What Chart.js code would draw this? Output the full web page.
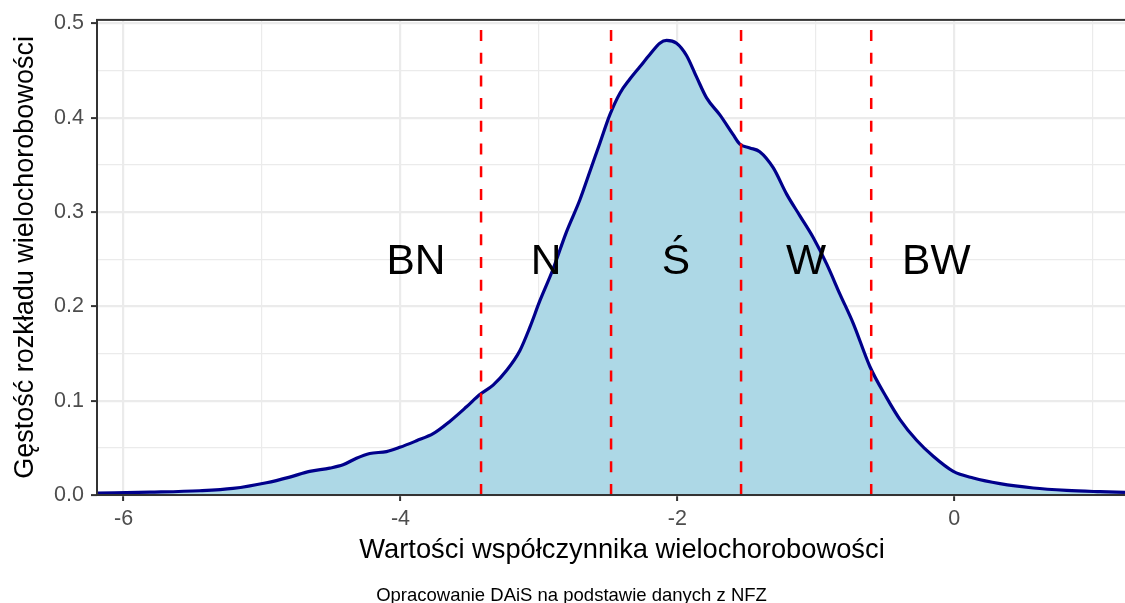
<!DOCTYPE html>
<html lang="pl">
<head>
<meta charset="utf-8">
<title>Gęstość rozkładu wielochorobowości</title>
<script src="https://cdn.jsdelivr.net/npm/chart.js@4.4.1/dist/chart.umd.min.js"></script>
<style>
  html, body { margin: 0; padding: 0; background: #ffffff; overflow: hidden; }
  #wrap { width: 1150px; height: 603px; position: relative; }
  canvas { display: block; }
</style>
</head>
<body>
<div id="wrap"><canvas id="chart" width="1150" height="603"></canvas></div>
<script>
// Estimated density of the multimorbidity coefficient
const densityX = [
  -6.192, -5.81, -5.45, -5.21, -4.968, -4.80, -4.656, -4.511, -4.415, -4.318,
  -4.222, -4.101, -4.005, -3.884, -3.764, -3.644, -3.523, -3.427, -3.331, -3.234,
  -3.138, -3.065, -2.993, -2.902, -2.801, -2.704, -2.632, -2.560, -2.488, -2.415,
  -2.343, -2.271, -2.199, -2.127, -2.078, -2.006, -1.934, -1.861, -1.789, -1.693,
  -1.597, -1.549, -1.477, -1.405, -1.308, -1.211, -1.115, -1.019, -0.922, -0.826,
  -0.730, -0.609, -0.488, -0.392, -0.272, -0.152, -0.007, 0.137, 0.330, 0.571,
  0.812, 1.053, 1.233
];
const densityY = [
  0.002, 0.003, 0.0045, 0.007, 0.013, 0.019, 0.025, 0.0285, 0.032, 0.039,
  0.044, 0.046, 0.0505, 0.0575, 0.065, 0.078, 0.0935, 0.1065, 0.1165, 0.132,
  0.153, 0.178, 0.206, 0.238, 0.279, 0.313, 0.343, 0.373, 0.403, 0.426,
  0.441, 0.454, 0.467, 0.479, 0.482, 0.479, 0.466, 0.443, 0.421, 0.403,
  0.382, 0.372, 0.368, 0.364, 0.347, 0.319, 0.296, 0.273, 0.245, 0.213,
  0.182, 0.136, 0.103, 0.080, 0.058, 0.041, 0.025, 0.018, 0.012, 0.0074,
  0.0049, 0.0035, 0.0027
];

// Group boundaries and group names
const cutPoints = [-3.418, -2.479, -1.540, -0.600];
const groupNames = ['BN', 'N', 'Ś', 'W', 'BW'];
const groupCentres = [-3.888, -2.948, -2.010, -1.070, -0.130];
const groupLabelY = 0.25;

// Axis ticks
const xMajorTicks = [-6, -4, -2, 0];
const xTickLabels = ['-6', '-4', '-2', '0'];
const xMinorTicks = [-5, -3, -1, 1];
const yMajorTicks = [0, 0.1, 0.2, 0.3, 0.4, 0.5];
const yTickLabels = ['0.0', '0.1', '0.2', '0.3', '0.4', '0.5'];
const yMinorTicks = [0.05, 0.15, 0.25, 0.35, 0.45];

const xLimits = [-6.192, 1.392];
const yLimits = [0, 0.5037];

const xTitle = 'Wartości współczynnika wielochorobowości';
const yTitle = 'Gęstość rozkładu wielochorobowości';
const captionText = 'Opracowanie DAiS na podstawie danych z NFZ';

const FONT = '"Liberation Sans", Arial, Helvetica, sans-serif';
const GRID = '#EBEBEB';
const INK = '#333333';

function isIn(list, v) { return list.some(t => Math.abs(t - v) < 1e-9); }
function tickLabel(majors, labels, v) {
  const i = majors.findIndex(t => Math.abs(t - v) < 1e-9);
  return i >= 0 ? labels[i] : '';
}

const densityPoints = densityX.map((x, i) => ({ x: x, y: densityY[i] }));

const cutDatasets = cutPoints.map(c => ({
  label: 'cut ' + c,
  data: [{ x: c, y: yLimits[0] }, { x: c, y: yLimits[1] }],
  borderColor: '#FF0000',
  borderWidth: 2.5,
  borderDash: [11, 11.7],
  pointRadius: 0,
  fill: false,
  order: 1
}));

const decorations = {
  id: 'decorations',
  afterDatasetsDraw(chart) {
    const { ctx, chartArea: a, scales } = chart;
    const xs = scales.x, ys = scales.y;
    ctx.save();
    // group names
    ctx.fillStyle = '#000000';
    ctx.font = '42.5px ' + FONT;
    ctx.textAlign = 'center';
    ctx.textBaseline = 'alphabetic';
    groupNames.forEach((name, i) => {
      const px = xs.getPixelForValue(groupCentres[i]);
      const py = ys.getPixelForValue(groupLabelY);
      ctx.fillText(name, px, py + 14.5);
    });
    // panel border
    ctx.strokeStyle = INK;
    ctx.lineWidth = 2;
    ctx.strokeRect(a.left, a.top, a.right - a.left, a.bottom - a.top);
    ctx.restore();
  },
  afterDraw(chart) {
    const { ctx, chartArea: a } = chart;
    ctx.save();
    ctx.fillStyle = '#000000';
    ctx.textAlign = 'center';
    ctx.textBaseline = 'alphabetic';
    ctx.font = '27.3px ' + FONT;
    ctx.fillText(xTitle, (a.left + a.right) / 2, 557.5);
    ctx.save();
    ctx.translate(33, (a.top + a.bottom) / 2);
    ctx.rotate(-Math.PI / 2);
    ctx.font = '27px ' + FONT;
    ctx.fillText(yTitle, 0, 0);
    ctx.restore();
    ctx.font = '18.5px ' + FONT;
    ctx.fillText(captionText, 571.5, 601);
    ctx.restore();
  }
};

new Chart(document.getElementById('chart'), {
  type: 'line',
  data: {
    datasets: [
      ...cutDatasets,
      {
        label: 'density',
        data: densityPoints,
        borderColor: '#00008B',
        borderWidth: 3.2,
        backgroundColor: '#ADD8E6',
        fill: 'origin',
        pointRadius: 0,
        cubicInterpolationMode: 'monotone',
        order: 2
      }
    ]
  },
  options: {
    responsive: false,
    animation: false,
    devicePixelRatio: 1,
    layout: { padding: { top: 18, left: 0, right: 3, bottom: 0 } },
    plugins: { legend: { display: false }, tooltip: { enabled: false } },
    scales: {
      x: {
        type: 'linear',
        min: xLimits[0],
        max: xLimits[1],
        afterBuildTicks(scale) {
          scale.ticks = [...xMajorTicks, ...xMinorTicks].sort((a, b) => a - b).map(v => ({ value: v }));
        },
        afterFit(scale) { scale.height = 108; },
        border: { display: false },
        grid: {
          color: GRID,
          lineWidth: c => isIn(xMajorTicks, c.tick.value) ? 2.2 : 1.2,
          tickColor: c => isIn(xMajorTicks, c.tick.value) ? INK : 'rgba(0,0,0,0)',
          tickWidth: 2,
          tickLength: 6
        },
        ticks: {
          autoSkip: false,
          maxRotation: 0,
          padding: 5,
          color: '#4D4D4D',
          font: { family: FONT, size: 21.5 },
          callback: v => tickLabel(xMajorTicks, xTickLabels, v)
        }
      },
      y: {
        type: 'linear',
        min: yLimits[0],
        max: yLimits[1],
        afterBuildTicks(scale) {
          scale.ticks = [...yMajorTicks, ...yMinorTicks].sort((a, b) => a - b).map(v => ({ value: v }));
        },
        afterFit(scale) { scale.width = 97; },
        border: { display: false },
        grid: {
          color: GRID,
          lineWidth: c => isIn(yMajorTicks, c.tick.value) ? 2.2 : 1.2,
          tickColor: c => isIn(yMajorTicks, c.tick.value) ? INK : 'rgba(0,0,0,0)',
          tickWidth: 2,
          tickLength: 6
        },
        ticks: {
          autoSkip: false,
          padding: 7,
          color: '#4D4D4D',
          font: { family: FONT, size: 21.5 },
          callback: v => tickLabel(yMajorTicks, yTickLabels, v)
        }
      }
    }
  },
  plugins: [decorations]
});
</script>
</body>
</html>
